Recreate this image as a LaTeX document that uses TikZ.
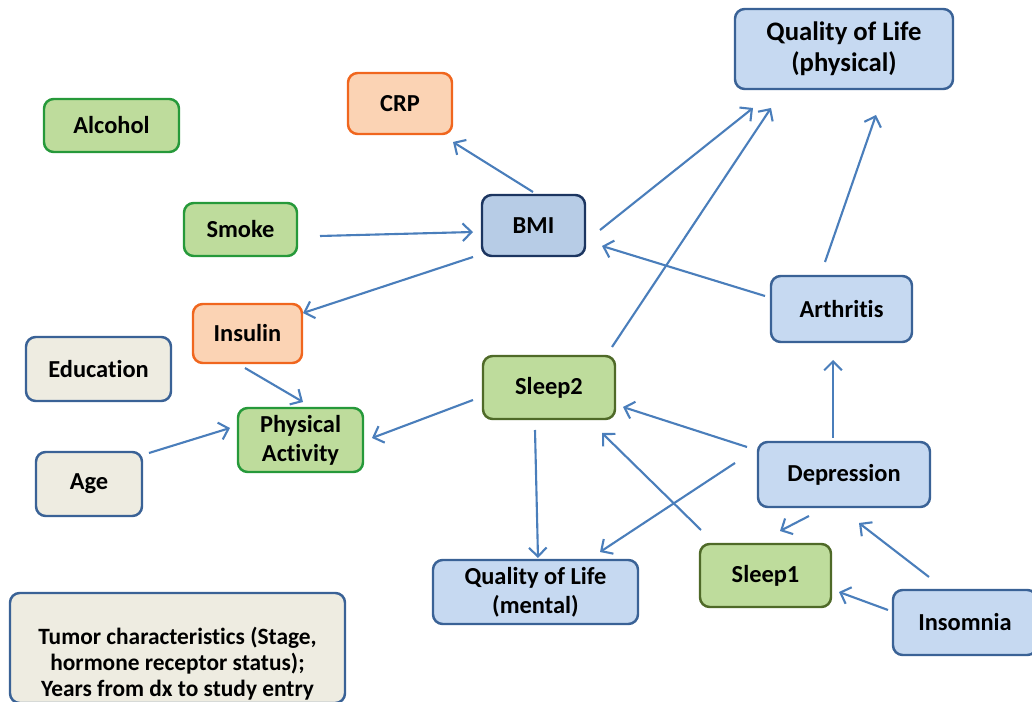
\documentclass[tikz,border=0pt]{standalone}
\usepackage{fontspec}
\setmainfont{Carlito}[Ligatures=NoCommon]
\usetikzlibrary{arrows.meta,calc}
\definecolor{bluefill}{HTML}{C6D9F1}
\definecolor{blueline}{HTML}{3A6296}
\definecolor{bmifill}{HTML}{B7CCE6}
\definecolor{bmiline}{HTML}{1C3560}
\definecolor{orfill}{HTML}{FBD3B4}
\definecolor{orline}{HTML}{F0661E}
\definecolor{grfill}{HTML}{BEDC9C}
\definecolor{grline}{HTML}{26993A}
\definecolor{olline}{HTML}{4F6A28}
\definecolor{begfill}{HTML}{EEECE1}
\definecolor{arrcol}{HTML}{4A7EBB}
\tikzset{
  box/.style={draw, line width=1.4pt, rounded corners=5.5pt, inner sep=0pt, align=center,
    font=\fontsize{13.9}{16.5}\selectfont\bfseries},
  sz/.style 2 args={minimum width=#1*0.02cm, minimum height=#2*0.02cm},
  bluebox/.style={box, fill=bluefill, draw=blueline},
  bmibox/.style={box, fill=bmifill, draw=bmiline},
  orbox/.style={box, fill=orfill, draw=orline},
  grbox/.style={box, fill=grfill, draw=grline},
  olbox/.style={box, fill=grfill, draw=olline},
  begbox/.style={box, fill=begfill, draw=blueline},
  arr/.style={draw=arrcol, line width=1.2pt, -{Straight Barb[length=5pt,width=10pt,line width=1.2pt]}}
}
\begin{document}
\begin{tikzpicture}[x=0.02cm, y=-0.02cm]
\useasboundingbox (0,0) rectangle (1032,702);
\node[bluebox, sz={218}{80}, font=\fontsize{15.2}{17.5}\selectfont\bfseries] (qolp) at (844,49) {Quality of Life\\(physical)};
\node[orbox, sz={104}{61}] (crp) at (400,103.5) {CRP};
\node[grbox, sz={135}{53}] (alcohol) at (111.5,125.5) {Alcohol};
\node[grbox, sz={113}{53}] (smoke) at (240.5,229.5) {Smoke};
\node[bmibox, sz={103}{61}] (bmi) at (533.5,225.5) {BMI};
\node[orbox, sz={109}{59}] (insulin) at (247.5,333.5) {Insulin};
\node[begbox, sz={145}{64}] (education) at (98.5,369) {Education};
\node[grbox, sz={125}{64}] (pa) at (300.5,440) {Physical\\Activity};
\node[begbox, sz={106}{64}] (age) at (89,484) {Age};
\node[olbox, sz={132}{63}] (sleep2) at (549,387.5) {Sleep2};
\node[bluebox, sz={141}{66}] (arthritis) at (841.5,309) {Arthritis};
\node[bluebox, sz={172}{65}] (depression) at (844,474.5) {Depression};
\node[bluebox, sz={205}{64}] (qolm) at (535.5,592) {Quality of Life\\(mental)};
\node[olbox, sz={131}{63}] (sleep1) at (765.5,575.5) {Sleep1};
\node[bluebox, sz={144}{65}] (insomnia) at (965,622.5) {Insomnia};
\node[begbox, sz={335}{110}] (tumor) at (177.5,648) {};
\node[font=\fontsize{13.3}{14.8}\selectfont\bfseries, align=center, inner sep=0pt] (tumortext) at (177.5,664) {Tumor characteristics (Stage,\\hormone receptor status);\\Years from dx to study entry};

\draw[arr] ($(bmi)+(-0.5,-33.5)$) -- ($(crp)+(53,38.5)$);
\draw[arr] ($(smoke)+(79.5,6.5)$) -- ($(bmi)+(-60.5,6.5)$);
\draw[arr] ($(bmi)+(-60.5,31.5)$) -- ($(insulin)+(55.5,-20.5)$);
\draw[arr] ($(insulin)+(-2.5,34.5)$) -- ($(pa)+(2.5,-38)$);
\draw[arr] ($(age)+(60,-31)$) -- ($(pa)+(-70.5,-12)$);
\draw[arr] ($(sleep2)+(-76,12.5)$) -- ($(pa)+(71.5,-2)$);
\draw[arr] ($(bmi)+(66.5,4.5)$) -- ($(qolp)+(-91,59)$);
\draw[arr] ($(sleep2)+(63,-40.5)$) -- ($(qolp)+(-73,59)$);
\draw[arr] ($(arthritis)+(-76.5,-13)$) -- ($(bmi)+(68.5,20.5)$);
\draw[arr] ($(arthritis)+(-16.5,-47)$) -- ($(qolp)+(32,66)$);
\draw[arr] ($(depression)+(-11,-36.5)$) -- ($(arthritis)+(-8.5,51)$);
\draw[arr] ($(depression)+(-97,-27.5)$) -- ($(sleep2)+(74,19.5)$);
\draw[arr] ($(depression)+(-109,-11.5)$) -- ($(qolm)+(64.5,-40)$);
\draw[arr] ($(sleep2)+(-14,42.5)$) -- ($(qolm)+(2.5,-34)$);
\draw[arr] ($(sleep1)+(-64.5,-45.5)$) -- ($(sleep2)+(53,45.5)$);
\draw[arr] ($(depression)+(-35,41.5)$) -- ($(sleep1)+(14.5,-44.5)$);
\draw[arr] ($(insomnia)+(-36,-45.5)$) -- ($(depression)+(15,48.5)$);
\draw[arr] ($(insomnia)+(-77,-12.5)$) -- ($(sleep1)+(73.5,16.5)$);
\end{tikzpicture}
\end{document}
